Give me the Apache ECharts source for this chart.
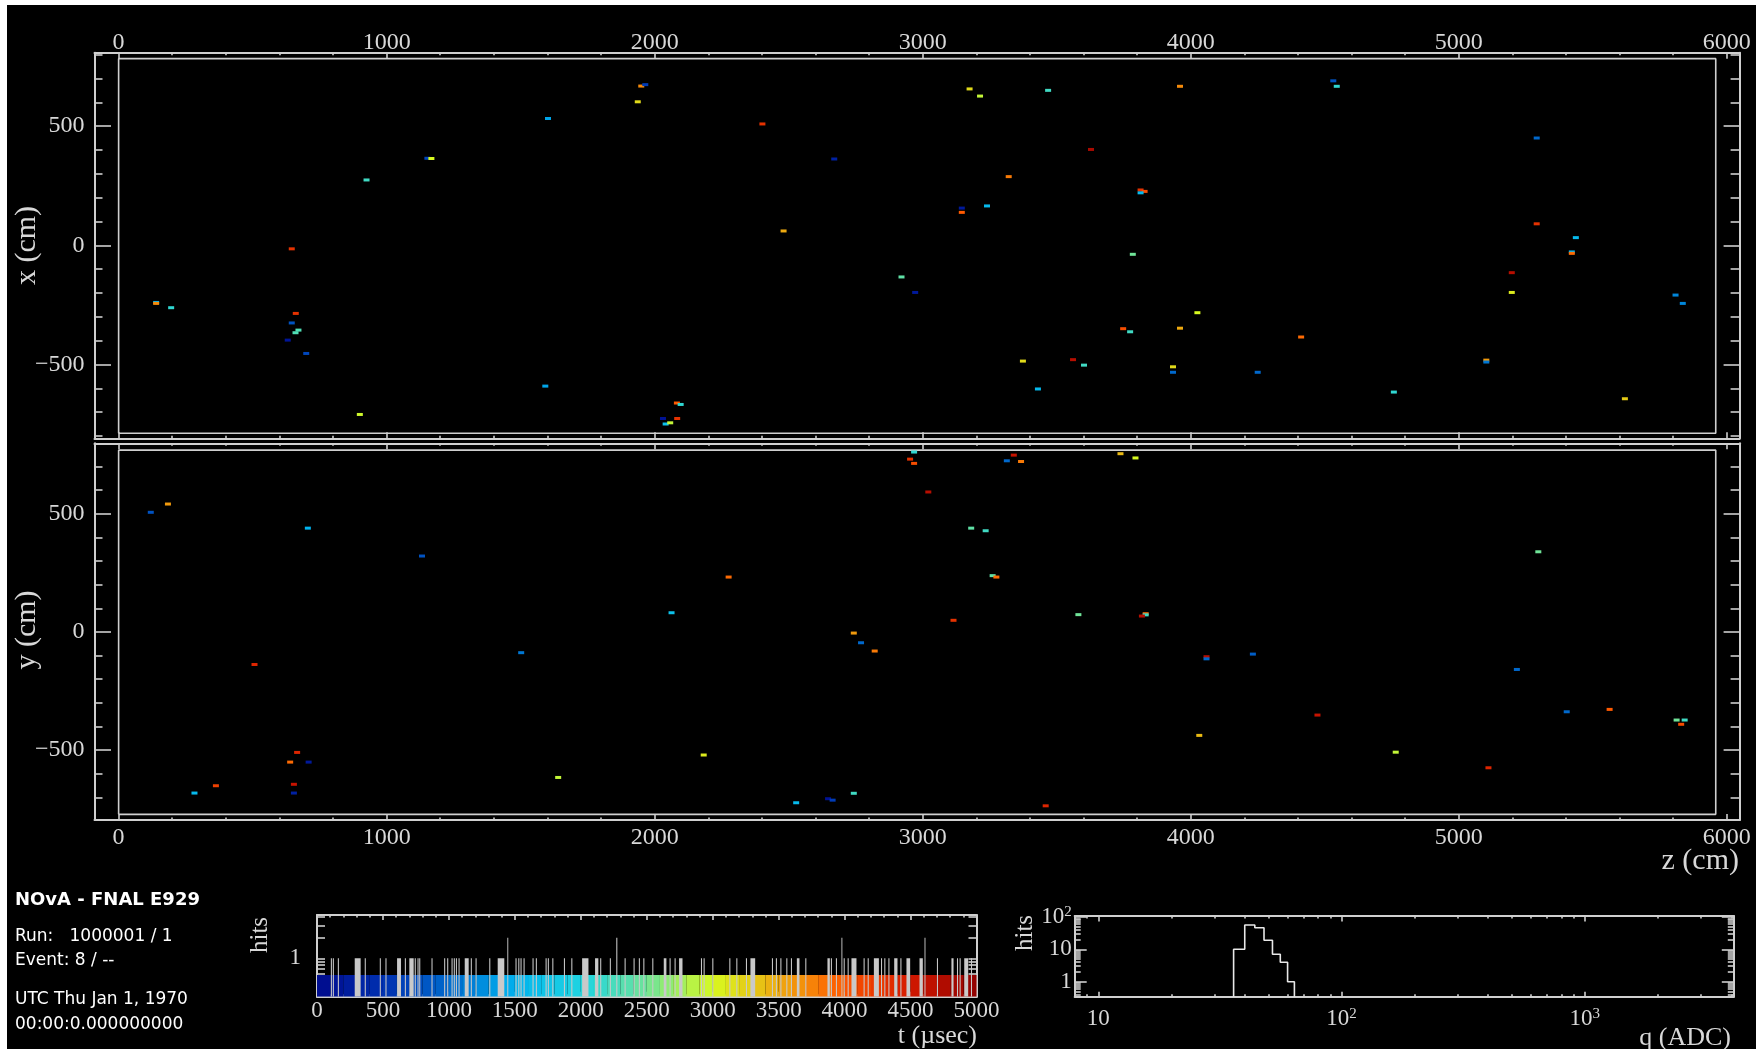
<!DOCTYPE html>
<html>
<head>
<meta charset="utf-8">
<title>NOvA event display</title>
<script src="https://cdn.jsdelivr.net/npm/echarts@6.0.0/dist/echarts.min.js"></script>
<style>
  html, body { margin: 0; padding: 0; background: #000; }
  #chart { width: 1756px; height: 1049px; }
</style>
</head>
<body>
<div id="chart"></div>
<script>
// ---------------------------------------------------------------------------
// Event data
// ---------------------------------------------------------------------------

// Hits seen in the top view: [z (cm), x (cm), t (µs)]
const hitsXZ = [
  [1602, 532, 1400], [1152, 365, 700], [1167, 364, 3000], [925, 274, 2200],
  [646, -15, 4300], [140, -240, 1500], [140, -244, 3700], [196, -262, 2100],
  [661, -286, 4300], [646, -326, 800], [671, -356, 2300], [660, -367, 2300],
  [631, -398, 150], [700, -454, 700], [1592, -591, 1400], [900, -710, 2950],
  [1950, 668, 3700], [1965, 674, 600], [1937, 602, 3200], [2402, 509, 4300],
  [2670, 362, 300], [2481, 60, 3500], [3175, 656, 3200], [3214, 626, 2900],
  [3468, 650, 2200], [3628, 402, 4800], [3321, 288, 3800], [3146, 156, 200],
  [3146, 138, 4000], [3240, 165, 1600], [3813, 232, 4300], [3828, 226, 4100],
  [3813, 220, 1600], [2921, -133, 2400], [2972, -198, 200], [3784, -38, 2500],
  [3748, -350, 4100], [3774, -363, 2200], [3374, -486, 3200], [3561, -480, 4700],
  [3602, -503, 2200], [3430, -603, 1600], [3934, -510, 3200], [3934, -533, 1000],
  [2083, -662, 4000], [2097, -668, 2100], [2031, -727, 100], [2084, -727, 4300],
  [2041, -750, 1700], [2058, -745, 2900], [3960, 667, 3700], [4532, 690, 800],
  [4545, 667, 2100], [5291, 450, 1000], [5291, 90, 4300], [5437, 32, 1600],
  [5422, -28, 1500], [5422, -34, 3900], [5198, -115, 4700], [5198, -198, 3100],
  [5809, -209, 1200], [5836, -244, 1200], [4025, -283, 3000], [3960, -348, 3500],
  [4412, -385, 3900], [4250, -533, 1000], [4758, -616, 2100], [5103, -482, 3600],
  [5103, -490, 1100], [5620, -644, 3300]
];

// Hits seen in the side view: [z (cm), y (cm), t (µs)]
const hitsYZ = [
  [120, 506, 800], [184, 541, 3600], [706, 439, 1500], [1132, 321, 800],
  [1502, -88, 1100], [507, -138, 4400], [666, -510, 4400], [640, -551, 3900],
  [709, -551, 200], [654, -645, 4600], [363, -651, 4200], [283, -682, 1600],
  [654, -682, 300], [1640, -616, 2900], [2968, 761, 2100], [2953, 731, 4300],
  [2968, 713, 4100], [3340, 748, 4600], [3314, 724, 1000], [3367, 721, 3800],
  [3738, 754, 3400], [3794, 736, 3000], [3021, 592, 4700], [3181, 439, 2400],
  [3235, 428, 2200], [3261, 238, 2400], [3275, 232, 3900], [2276, 232, 3900],
  [2063, 81, 1700], [3115, 49, 4300], [3581, 73, 2500], [3832, 77, 3900],
  [3832, 72, 2200], [3818, 67, 4700], [2743, -5, 3600], [2770, -46, 1000],
  [2821, -81, 3800], [2183, -521, 3100], [2528, -723, 1600], [2647, -706, 100],
  [2664, -712, 600], [2743, -683, 2200], [3459, -736, 4400], [5297, 339, 2500],
  [4059, -105, 4700], [4059, -114, 1000], [4232, -94, 900], [5217, -159, 1000],
  [4473, -352, 4600], [4032, -438, 3400], [4765, -509, 2900], [5111, -575, 4400],
  [5403, -338, 1000], [5563, -328, 4000], [5813, -373, 2500], [5843, -373, 2200],
  [5830, -391, 4100]
];

// Detector outline (cm)
const detectorZ = [0, 5959];
const detectorX = [-789, 783];
const detectorY = [-772, 769];

// Hit-time histogram: [t start (µs), t end (µs), hits]
const timeBins = [
  [105, 113, 1], [120, 128, 1], [158, 166, 1], [286, 331, 1], [362, 370, 1],
  [476, 484, 1], [519, 527, 1], [607, 637, 1], [666, 674, 1], [700, 733, 1],
  [741, 749, 1], [762, 770, 1], [775, 783, 1], [868, 876, 1], [964, 972, 1],
  [987, 995, 1], [1020, 1028, 1], [1037, 1045, 1], [1053, 1061, 1], [1073, 1081, 1],
  [1120, 1150, 1], [1166, 1174, 1], [1202, 1210, 1], [1306, 1314, 1], [1370, 1420, 1],
  [1443, 1450, 2], [1505, 1513, 1], [1526, 1534, 1], [1543, 1551, 1], [1566, 1574, 1],
  [1634, 1642, 1], [1659, 1667, 1], [1733, 1741, 1], [1750, 1758, 1], [1784, 1792, 1],
  [1872, 1880, 1], [1928, 1936, 1], [2010, 2058, 1], [2108, 2133, 1], [2147, 2155, 1],
  [2220, 2228, 1], [2269, 2277, 2], [2332, 2340, 1], [2400, 2408, 1], [2440, 2448, 1],
  [2474, 2482, 1], [2542, 2550, 1], [2629, 2649, 1], [2673, 2681, 1], [2711, 2719, 1],
  [2745, 2771, 1], [2911, 2919, 1], [2931, 2939, 1], [2997, 3005, 1], [3126, 3134, 1],
  [3179, 3187, 1], [3252, 3260, 1], [3286, 3322, 1], [3449, 3457, 1], [3479, 3487, 1],
  [3513, 3521, 1], [3558, 3566, 1], [3593, 3601, 1], [3638, 3658, 1], [3702, 3710, 1],
  [3870, 3888, 1], [3896, 3904, 1], [3934, 3942, 1], [3976, 3983, 2], [3993, 4001, 1],
  [4023, 4031, 1], [4052, 4090, 1], [4144, 4152, 1], [4175, 4183, 1], [4222, 4260, 1],
  [4276, 4284, 1], [4301, 4309, 1], [4332, 4340, 1], [4376, 4401, 1], [4423, 4431, 1],
  [4469, 4497, 1], [4568, 4593, 1], [4606, 4613, 2], [4700, 4708, 1], [4810, 4826, 1],
  [4852, 4860, 1], [4872, 4880, 1], [4907, 4937, 1], [4958, 4966, 1]
];

// Charge histogram (ADC)
const qBinEdges = [36, 40, 44, 48, 52, 56, 60, 64];
const qCounts = [10, 56, 46, 19, 7, 4, 1];

// Axis ranges
const zRange = [-90, 6048];
const xRange = [-810, 808];
const yRange = [-796, 798];
const tRange = [0, 5000];
const tHitsRange = [0.275, 4.3];
const qRange = [8, 4096];
const qHitsRange = [0.344, 106.6];

// Tick labels
const zTickLabels = [0, 1000, 2000, 3000, 4000, 5000, 6000];
const transTickLabels = [-500, 0, 500];
const tTickLabels = [0, 500, 1000, 1500, 2000, 2500, 3000, 3500, 4000, 4500, 5000];
const tHitsTickLabels = [1];
const qTickLabels = [10, 100, 1000];
const qHitsTickLabels = [1, 10, 100];

// Hit-time colour scale, 0 → 5000 µs
const timePalette = ['#000a8c', '#0030b0', '#0068cc', '#00b4f0', '#20d4e0', '#70e498',
                     '#d8fa20', '#eeaa10', '#ff5a00', '#d41800', '#8c0000'];
const paletteBandTop = 0.57;   // hits level of the colour key strip
const paletteStep = 100;       // µs per colour key slice

// Event header
const infoLines = ['NOvA - FNAL E929', 'Run:   1000001 / 1', 'Event: 8 / --',
                   'UTC Thu Jan 1, 1970', '00:00:0.000000000'];

// ---------------------------------------------------------------------------
// Styling and layout
// ---------------------------------------------------------------------------
const LINE = '#cfcfcf';
const TEXT = '#d8d8d8';
const SERIF = '"Liberation Serif", "Times New Roman", serif';
const SANS = '"DejaVu Sans", sans-serif';

const grids = [
  { left: 94.5, top: 52.7, width: 1645.1, height: 385.6 },   // XZ view
  { left: 94.5, top: 443.3, width: 1645.1, height: 376.7 },  // YZ view
  { left: 317, top: 915, width: 659.5, height: 81.7 },       // hit times
  { left: 1074.7, top: 916, width: 659.1, height: 80.7 }     // hit charge
].map(g => Object.assign({ outerBoundsMode: 'none', containLabel: false, show: false }, g));

const log10 = v => Math.log10(v);
function steps(a, b, step, skip) {
  const out = [];
  for (let v = a; v <= b + 1e-9; v += step) if (!skip.includes(v)) out.push(v);
  return out;
}
function logMinor(lo, hi) {
  const out = [];
  for (let e = Math.floor(log10(lo)); e <= Math.ceil(log10(hi)); e++) {
    for (let k = 2; k <= 9; k++) {
      const v = k * Math.pow(10, e);
      if (v >= lo && v <= hi) out.push(v);
    }
  }
  return out;
}
// plain integers, long minus sign, no digit grouping
const plain = v => (v < 0 ? '\u2212' + Math.abs(v) : String(v));
const powerLabel = v => {
  const p = Math.round(v);
  return p === 0 ? '1' : p === 1 ? '10' : '10{sup|' + p + '}';
};

const xAxes = [];
const yAxes = [];
function frameAxis(list, grid, position, range, ticks, len, label, line) {
  list.push({
    type: 'value', gridIndex: grid, position, min: range[0], max: range[1],
    axisLine: { show: line !== false, onZero: false, lineStyle: { color: LINE, width: 2 } },
    axisTick: { show: true, inside: true, length: len, customValues: ticks,
                lineStyle: { color: LINE, width: 1.6 } },
    axisLabel: label || { show: false },
    splitLine: { show: false }, splitArea: { show: false }, minorTick: { show: false }
  });
  return list.length - 1;
}
function labels(values, opts) {
  return Object.assign({
    show: true, customValues: values, color: TEXT, fontFamily: SERIF, fontSize: 24,
    verticalAlign: 'middle', formatter: plain,
    rich: { sup: { fontFamily: SERIF, fontSize: 15, color: TEXT, verticalAlign: 'top', padding: [0, 0, 9, 0] } }
  }, opts);
}
function hiddenAxis(list, grid, type, range) {
  list.push({ type, gridIndex: grid, min: range[0], max: range[1], show: false });
  return list.length - 1;
}

// --- detector views (grids 0 and 1) ---
const zMinor = steps(0, 6000, 200, zTickLabels);
const transMinor = steps(-800, 800, 100, transTickLabels);

function viewAxes(grid, transRange, zLabelSide, zLabelMargin) {
  const zTop = frameAxis(xAxes, grid, 'top', zRange, zTickLabels, 6,
    zLabelSide === 'top' ? labels(zTickLabels, { margin: zLabelMargin }) : null);
  frameAxis(xAxes, grid, 'top', zRange, zMinor, 2.5, null, false);
  const zBottom = frameAxis(xAxes, grid, 'bottom', zRange, zTickLabels, 6,
    zLabelSide === 'bottom' ? labels(zTickLabels, { margin: zLabelMargin }) : null);
  frameAxis(xAxes, grid, 'bottom', zRange, zMinor, 2.5, null, false);
  const left = frameAxis(yAxes, grid, 'left', transRange, transTickLabels, 16.5,
    labels(transTickLabels, { margin: 10 }));
  frameAxis(yAxes, grid, 'left', transRange, transMinor, 8, null, false);
  frameAxis(yAxes, grid, 'right', transRange, transTickLabels, 16);
  frameAxis(yAxes, grid, 'right', transRange, transMinor, 9, null, false);
  return { x: zLabelSide === 'top' ? zTop : zBottom, y: left };
}
const axXZ = viewAxes(0, xRange, 'top', 9.5);
const axYZ = viewAxes(1, yRange, 'bottom', 17.5);

// --- hit time histogram (grid 2) ---
const tMinor = steps(0, 5000, 100, tTickLabels);
const tX = frameAxis(xAxes, 2, 'bottom', tRange, tTickLabels, 5,
  labels(tTickLabels, { fontSize: 23, margin: 14 }));
frameAxis(xAxes, 2, 'bottom', tRange, tMinor, 2.5, null, false);
frameAxis(xAxes, 2, 'top', tRange, tTickLabels, 5);
frameAxis(xAxes, 2, 'top', tRange, tMinor, 2.5, null, false);
const tY = hiddenAxis(yAxes, 2, 'log', tHitsRange);
const tHitsLog = tHitsRange.map(log10);
const tHitsTicks = tHitsTickLabels.concat(logMinor(tHitsRange[0], tHitsRange[1])).map(log10);
frameAxis(yAxes, 2, 'left', tHitsLog, tHitsTicks, 8,
  labels(tHitsTickLabels.map(log10), { fontSize: 23, margin: 16, formatter: powerLabel }));
frameAxis(yAxes, 2, 'right', tHitsLog, tHitsTicks, 8);

// --- hit charge histogram (grid 3) ---
const qX = hiddenAxis(xAxes, 3, 'log', qRange);
const qY = hiddenAxis(yAxes, 3, 'log', qHitsRange);
const qLog = qRange.map(log10);
const qHitsLog = qHitsRange.map(log10);
const qMajor = qTickLabels.map(log10);
const qMinorT = logMinor(qRange[0], qRange[1]).map(log10);
const qHitsMajor = qHitsTickLabels.map(log10);
const qHitsMinor = logMinor(qHitsRange[0], qHitsRange[1]).map(log10);
frameAxis(xAxes, 3, 'bottom', qLog, qMajor, 5,
  labels(qMajor, { fontSize: 23, margin: 22, formatter: powerLabel }));
frameAxis(xAxes, 3, 'bottom', qLog, qMinorT, 2.5, null, false);
frameAxis(xAxes, 3, 'top', qLog, qMajor, 5.5);
frameAxis(xAxes, 3, 'top', qLog, qMinorT, 2.5, null, false);
frameAxis(yAxes, 3, 'left', qHitsLog, qHitsMajor, 12,
  labels(qHitsMajor, { fontSize: 23, margin: 3, formatter: powerLabel }));
frameAxis(yAxes, 3, 'left', qHitsLog, qHitsMinor, 6, null, false);
frameAxis(yAxes, 3, 'right', qHitsLog, qHitsMajor, 12);
frameAxis(yAxes, 3, 'right', qHitsLog, qHitsMinor, 6, null, false);

// ---------------------------------------------------------------------------
// Series data built from the arrays above
// ---------------------------------------------------------------------------
function outline(zs, ts) {
  return [[zs[0], ts[0]], [zs[1], ts[0]], [zs[1], ts[1]], [zs[0], ts[1]], [zs[0], ts[0]]];
}
const paletteBand = [];
for (let t = tRange[0]; t < tRange[1]; t += paletteStep) {
  paletteBand.push([t, t + paletteStep, t + paletteStep / 2]);
}
const qStep = [[qBinEdges[0], qHitsRange[0]]];
qCounts.forEach((c, i) => { qStep.push([qBinEdges[i], c], [qBinEdges[i + 1], c]); });
qStep.push([qBinEdges[qBinEdges.length - 1], qHitsRange[0]]);

function rectItem(api, x0, x1, yTop, yBottom, fill) {
  const a = api.coord([x0, yTop]);
  const b = api.coord([x1, yBottom]);
  return { type: 'rect', shape: { x: a[0], y: a[1], width: b[0] - a[0], height: b[1] - a[1] },
           style: { fill } };
}

const hitSymbol = { type: 'scatter', symbol: 'rect', symbolSize: [6, 3], z: 5,
                    itemStyle: { opacity: 1 }, silent: true };

const series = [
  Object.assign({ name: 'XZ hits', xAxisIndex: axXZ.x, yAxisIndex: axXZ.y, data: hitsXZ }, hitSymbol),
  Object.assign({ name: 'YZ hits', xAxisIndex: axYZ.x, yAxisIndex: axYZ.y, data: hitsYZ }, hitSymbol),
  { name: 'XZ detector', type: 'line', xAxisIndex: axXZ.x, yAxisIndex: axXZ.y,
    data: outline(detectorZ, detectorX), symbol: 'none', silent: true, z: 3,
    lineStyle: { color: LINE, width: 1.6 } },
  { name: 'YZ detector', type: 'line', xAxisIndex: axYZ.x, yAxisIndex: axYZ.y,
    data: outline(detectorZ, detectorY), symbol: 'none', silent: true, z: 3,
    lineStyle: { color: LINE, width: 1.6 } },
  { name: 'time key', type: 'custom', xAxisIndex: tX, yAxisIndex: tY, data: paletteBand,
    encode: { x: [0, 1], y: 2 }, silent: true, z: 2, clip: true,
    renderItem: (p, api) => rectItem(api, api.value(0), api.value(1), paletteBandTop,
                                     tHitsRange[0], api.visual('color')) },
  { name: 'hit times', type: 'custom', xAxisIndex: tX, yAxisIndex: tY, data: timeBins,
    encode: { x: [0, 1], y: 2 }, silent: true, z: 4, clip: true,
    renderItem: (p, api) => rectItem(api, api.value(0), api.value(1), api.value(2),
                                     tHitsRange[0], '#c9c9c9') },
  { name: 'hit charge', type: 'line', xAxisIndex: qX, yAxisIndex: qY, data: qStep,
    symbol: 'none', silent: true, clip: true, z: 4,
    lineStyle: { color: '#e8e8e8', width: 1.6 } }
];

// ---------------------------------------------------------------------------
// Titles and header text
// ---------------------------------------------------------------------------
function text(x, y, str, font, opts) {
  return Object.assign({ type: 'text', x, y, silent: true,
    style: Object.assign({ text: str, font, fill: TEXT, align: 'left', verticalAlign: 'middle' },
                         (opts && opts.style) || {}) }, opts && opts.rotation ? { rotation: opts.rotation } : {});
}
const graphic = [
  { type: 'rect', shape: { x: 0, y: 0, width: 1756, height: 5 }, style: { fill: '#ffffff' }, silent: true },
  { type: 'rect', shape: { x: 0, y: 0, width: 7, height: 1049 }, style: { fill: '#ffffff' }, silent: true },
  text(27, 245.5, 'x (cm)', '30px ' + SERIF, { rotation: Math.PI / 2, style: { align: 'center' } }),
  text(27, 630, 'y (cm)', '30px ' + SERIF, { rotation: Math.PI / 2, style: { align: 'center' } }),
  text(1739, 861, 'z (cm)', '30px ' + SERIF, { style: { align: 'right' } }),
  text(260, 935, 'hits', '25px ' + SERIF, { rotation: Math.PI / 2, style: { align: 'center' } }),
  text(977, 1036, 't (\u00b5sec)', '26px ' + SERIF, { style: { align: 'right' } }),
  text(1025, 933, 'hits', '25px ' + SERIF, { rotation: Math.PI / 2, style: { align: 'center' } }),
  text(1731, 1038, 'q (ADC)', '26px ' + SERIF, { style: { align: 'right' } }),
  text(15, 900, infoLines[0], 'bold 18px ' + SANS, { style: { fill: '#ffffff' } }),
  text(15, 937, infoLines[1], '17px ' + SANS, { style: { fill: '#ffffff' } }),
  text(15, 961, infoLines[2], '17px ' + SANS, { style: { fill: '#ffffff' } }),
  text(15, 1000, infoLines[3], '17px ' + SANS, { style: { fill: '#ffffff' } }),
  text(15, 1025, infoLines[4], '17px ' + SANS, { style: { fill: '#ffffff' } })
];

const chart = echarts.init(document.getElementById('chart'), null, { renderer: 'canvas' });
chart.setOption({
  backgroundColor: '#000000',
  animation: false,
  grid: grids,
  xAxis: xAxes,
  yAxis: yAxes,
  visualMap: [{
    type: 'continuous', show: false, dimension: 2, min: tRange[0], max: tRange[1],
    seriesIndex: [0, 1, 4], inRange: { color: timePalette }
  }],
  series,
  graphic
});
</script>
</body>
</html>
